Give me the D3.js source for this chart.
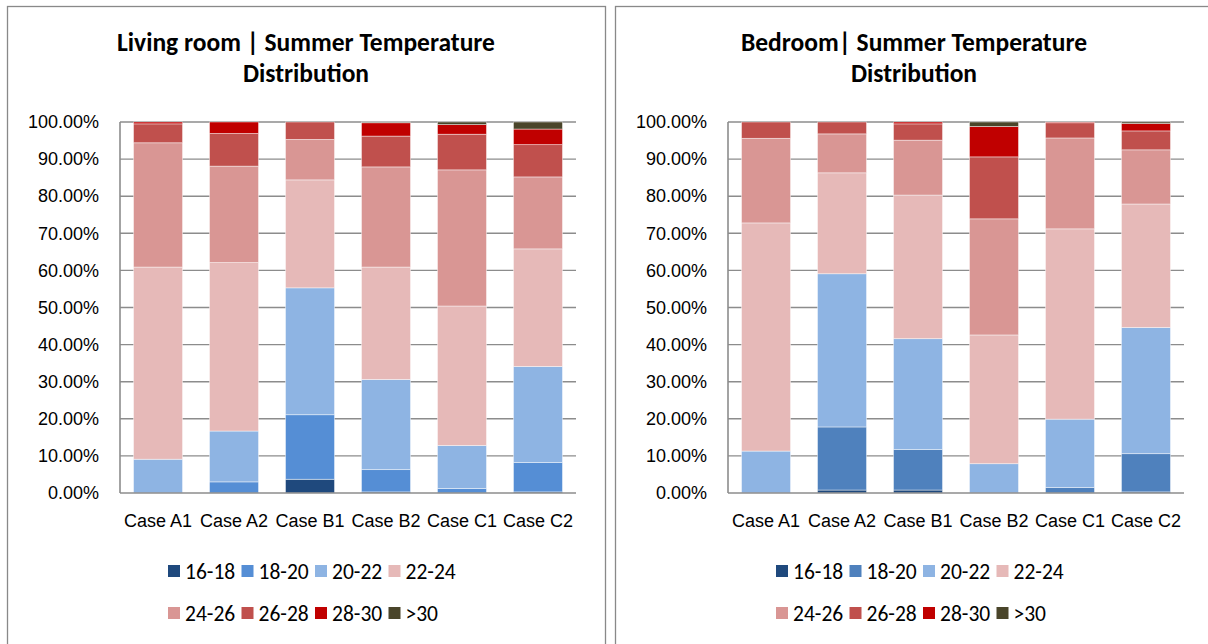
<!DOCTYPE html>
<html>
<head>
<meta charset="utf-8">
<script src="https://cdn.jsdelivr.net/npm/d3@7"></script>
<style>
  html, body { margin: 0; padding: 0; background: #fff; }
  svg { display: block; font-family: Carlito, Lato, "Noto Sans", sans-serif; }
</style>
</head>
<body>
<svg id="chart" width="1208" height="644"></svg>
<script>
// Temperature bins (°C) shown in each stacked bar
const bins = ["16-18", "18-20", "20-22", "22-24", "24-26", "26-28", "28-30", ">30"];
const categories = ["Case A1", "Case A2", "Case B1", "Case B2", "Case C1", "Case C2"];
const yTicks = [0, 10, 20, 30, 40, 50, 60, 70, 80, 90, 100];

// Share of summer hours (%) per bin, one row per case
const livingRoom = [
  [0.0, 0.0,  9.1, 51.8, 33.5, 5.1, 0.5, 0.0],
  [0.0, 3.0, 13.7, 45.4, 26.0, 8.8, 3.1, 0.0],
  [3.7, 17.4, 34.2, 29.1, 10.9, 4.7, 0.0, 0.0],
  [0.3, 6.0, 24.3, 30.3, 27.0, 8.3, 3.6, 0.2],
  [0.0, 1.2, 11.6, 37.6, 36.7, 9.6, 2.6, 0.7],
  [0.3, 7.9, 25.9, 31.7, 19.4, 8.7, 4.2, 1.9]
];
const bedroom = [
  [0.0, 0.0, 11.3, 61.5, 22.8, 4.4, 0.0, 0.0],
  [0.8, 17.0, 41.3, 27.2, 10.5, 3.2, 0.0, 0.0],
  [0.8, 10.9, 29.9, 38.7, 14.8, 4.4, 0.5, 0.0],
  [0.0, 0.0,  7.9, 34.7, 31.3, 16.7, 8.2, 1.2],
  [0.0, 1.5, 18.4, 51.3, 24.5, 4.1, 0.2, 0.0],
  [0.3, 10.3, 34.0, 33.3, 14.6, 5.1, 2.0, 0.4]
];

const livingColors  = ["#1F497D", "#558ED5", "#8EB4E3", "#E6B9B8", "#D99694", "#C0504D", "#C00000", "#4A452A"];
const bedroomColors = ["#1F497D", "#4F81BD", "#8EB4E3", "#E6B9B8", "#D99694", "#C0504D", "#C00000", "#4A452A"];

const svg = d3.select("#chart");

function drawPanel(opts) {
  const { x0, titleLines, rows, colors } = opts;
  const g = svg.append("g");

  // panel frame
  g.append("rect")
    .attr("x", x0 + 0.5).attr("y", 6.5)
    .attr("width", 598).attr("height", 660)
    .attr("fill", "#fff").attr("stroke", "#898989").attr("stroke-width", 1.3);

  const plotL = x0 + 113, plotR = x0 + 569, plotT = 122, plotB = 493;

  // title
  titleLines.forEach((t, i) => {
    g.append("text")
      .attr("x", x0 + 299).attr("y", 51 + i * 31)
      .attr("text-anchor", "middle")
      .attr("font-size", 25.5).attr("font-weight", "bold").attr("fill", "#000")
      .text(t);
  });

  const x = d3.scaleBand().domain(categories).range([plotL, plotR])
    .paddingInner(0.355).paddingOuter(0.178);
  const y = d3.scaleLinear().domain([0, 100]).range([plotB, plotT]);

  // gridlines
  g.append("g").selectAll("line").data(yTicks.filter(d => d > 0)).join("line")
    .attr("x1", plotL).attr("x2", plotR)
    .attr("y1", d => y(d)).attr("y2", d => y(d))
    .attr("stroke", "#8c8c8c").attr("stroke-width", 1.4);

  // y axis labels
  const yAxis = d3.axisLeft(y).tickValues(yTicks).tickSize(0).tickPadding(0)
    .tickFormat(d => d.toFixed(2) + "%");
  const ya = g.append("g").attr("transform", `translate(${plotL - 21},0)`).call(yAxis);
  ya.select(".domain").remove();
  ya.selectAll("text").attr("font-size", 18).attr("fill", "#000").attr("font-family", null);

  // stacked bars
  const data = rows.map((r, i) => {
    const o = { cat: categories[i] };
    bins.forEach((b, j) => o[b] = r[j]);
    return o;
  });
  const series = d3.stack().keys(bins)(data);
  g.append("g").selectAll("g").data(series).join("g")
    .attr("fill", (d, i) => colors[i])
    .selectAll("rect").data(d => d.filter(s => s[1] - s[0] > 0)).join("rect")
    .attr("x", d => x(d.data.cat))
    .attr("width", x.bandwidth())
    .attr("y", d => y(d[1]))
    .attr("height", d => y(d[0]) - y(d[1]))
    .attr("stroke", "rgba(255,255,255,0.55)").attr("stroke-width", 0.8);

  // axis lines
  g.append("line").attr("x1", plotL).attr("x2", plotL).attr("y1", plotT).attr("y2", plotB)
    .attr("stroke", "#8c8c8c").attr("stroke-width", 1.6);
  g.append("line").attr("x1", plotL).attr("x2", plotR).attr("y1", plotB).attr("y2", plotB)
    .attr("stroke", "#8c8c8c").attr("stroke-width", 1.6);

  // category labels
  const xAxis = d3.axisBottom(x).tickSize(0).tickPadding(0);
  const xa = g.append("g").attr("transform", `translate(0,${plotB + 34})`).call(xAxis);
  xa.select(".domain").remove();
  xa.selectAll("text").attr("font-size", 18).attr("fill", "#000").attr("font-family", null).attr("dy", 0);

  // legend, two rows of four
  const legend = g.append("g");
  bins.forEach((b, i) => {
    const col = i % 4, row = Math.floor(i / 4);
    const lx = plotL + 48 + col * 73.5, ly = 571 + row * 42;
    const item = legend.append("g").attr("transform", `translate(${lx},${ly})`);
    item.append("rect").attr("x", 0).attr("y", -6).attr("width", 12).attr("height", 12).attr("fill", colors[i]);
    item.append("text").attr("x", 17).attr("y", 7.5).attr("font-size", 21.5).attr("fill", "#000").text(b);
  });
}

drawPanel({ x0: 7, titleLines: ["Living room | Summer Temperature", "Distribution"], rows: livingRoom, colors: livingColors });
drawPanel({ x0: 615, titleLines: ["Bedroom| Summer Temperature", "Distribution"], rows: bedroom, colors: bedroomColors });
</script>
</body>
</html>
